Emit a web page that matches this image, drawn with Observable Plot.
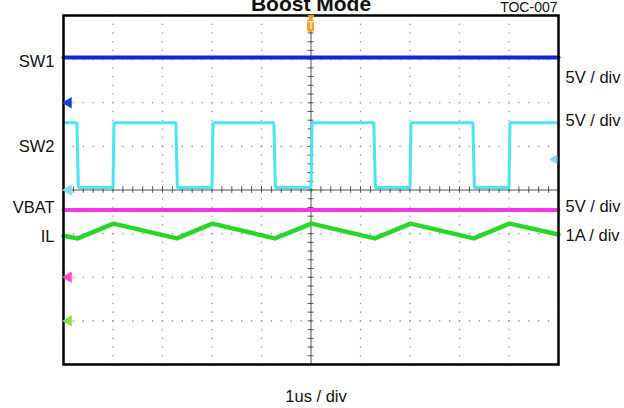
<!DOCTYPE html>
<html><head><meta charset="utf-8">
<script src="https://cdn.jsdelivr.net/npm/d3@7"></script>
<script src="https://cdn.jsdelivr.net/npm/@observablehq/plot@0.6"></script>
<style>
body{margin:0;background:#fff;}
#chart{width:624px;height:408px;overflow:hidden;}
</style>
</head><body><div id="chart"></div>
<script>
// ---- text ----
const title = "Boost Mode";
const docId = "TOC-007";
const timeBase = "1us / div";
const channels = ["SW1", "SW2", "VBAT", "IL"];
const channelScale = ["5V / div", "5V / div", "5V / div", "1A / div"];
// ---- channel setup (units per division, ground reference in divisions) ----
const unitsPerDiv = [5, 5, 5, 1];
const groundDiv = [2, 0, -2, -3];
const triggerLevelV = 3.5;   // SW2 trigger level
const triggerTime = 5;       // us
// ---- traces (time in us, value in V or A) ----
const sw1T = [0, 10];
const sw1V = [5.2, 5.2];
const sw2T = [0, 0.27, 0.30, 1.00, 1.02, 2.27, 2.30, 3.00, 3.02, 4.25, 4.28, 5.00, 5.02, 6.27, 6.30, 7.00, 7.02, 8.27, 8.30, 9.00, 9.02, 10];
const sw2V = [7.7, 7.7, 0.3, 0.3, 7.7, 7.7, 0.3, 0.3, 7.7, 7.7, 0.3, 0.3, 7.7, 7.7, 0.3, 0.3, 7.7, 7.7, 0.3, 0.3, 7.7, 7.7];
const vbatT = [0, 10];
const vbatV = [7.7, 7.7];
const ilT = [0, 0.29, 1.01, 2.29, 3.01, 4.27, 5.01, 6.29, 7.01, 8.29, 9.01, 10];
const ilV = [1.95, 1.89, 2.23, 1.89, 2.23, 1.89, 2.23, 1.89, 2.23, 1.89, 2.23, 1.98];

const traceColors = ["#1226dc", "#48e6f2", "#f434ec", "#2bd62b"];
const markerColors = ["#1c3ed2", "#80daf0", "#ff4cc6", "#88dc4c"];
const traceWidths = [4, 3, 4, 4.5];

const traces = [[sw1T, sw1V], [sw2T, sw2V], [vbatT, vbatV], [ilT, ilV]];
const traceData = traces.map(([T, V], i) =>
  T.map((t, j) => ({t, div: groundDiv[i] + V[j] / unitsPerDiv[i], ch: i})));

// graticule: 10 x 8 divisions, 5 minor steps per division
const xDivs = d3.range(0, 11);
const yDivs = d3.range(-4, 5);
const xMinor = d3.range(0, 50.5).map(k => k / 5);
const yMinor = d3.range(-20, 20.5).map(k => k / 5);
const gridDots = [];
for (const x of xDivs) for (const y of yMinor) gridDots.push({x, y});
for (const y of yDivs) for (const x of xMinor) gridDots.push({x, y});

const font = "Liberation Sans, Arial, Helvetica, sans-serif";
const labelY = [2.93, 1.0, -0.40, -1.08];
const scaleY = [2.58, 1.59, -0.38, -1.05];

const chart = Plot.plot({
  width: 624, height: 408,
  marginLeft: 63, marginRight: 66, marginTop: 15, marginBottom: 44,
  x: {domain: [0, 10], axis: null},
  y: {domain: [-4, 4], axis: null},
  style: {fontFamily: font, background: "white", overflow: "visible"},
  marks: [
    Plot.dot(gridDots, {x: "x", y: "y", r: 0.8, fill: "#9a9a9a", stroke: null}),
    Plot.ruleX([triggerTime], {stroke: "#555", strokeWidth: 1}),
    Plot.ruleY([0], {stroke: "#555", strokeWidth: 1}),
    Plot.ruleX(xMinor, {x: d => d, y1: -0.075, y2: 0.075, stroke: "#555", strokeWidth: 1}),
    Plot.ruleY(yMinor, {y: d => d, x1: 4.94, x2: 5.06, stroke: "#555", strokeWidth: 1}),
    ...traceData.map((data, i) => Plot.line(data, {
      x: "t", y: "div", stroke: traceColors[i], strokeWidth: traceWidths[i],
      strokeLinejoin: "miter", curve: "linear"
    })),
    Plot.frame({stroke: "black", strokeWidth: 2.5}),
    // ground reference markers
    Plot.dot(groundDiv, {x: () => 0, y: d => d, dx: 5, symbol: "triangle", rotate: -90, r: 4.2,
      fill: (d, i) => markerColors[i], stroke: null}),
    // trigger level marker (SW2)
    Plot.dot([triggerLevelV], {x: () => 10, y: d => groundDiv[1] + d / unitsPerDiv[1], dx: -4,
      symbol: "triangle", rotate: -90, r: 3.6, fill: markerColors[1], stroke: null}),
    // trigger position marker
    Plot.dot([triggerTime], {x: d => d, frameAnchor: "top", dy: 1.5, symbol: "triangle", rotate: 180,
      r: 2.6, fill: "#f39a1a", stroke: null}),
    Plot.rect([triggerTime], {x1: d => d - 0.07, x2: d => d + 0.07, y1: 3.61, y2: 3.91, rx: 3,
      fill: "#f5a01e"}),
    Plot.text([triggerTime], {x: d => d, y: 3.76, text: () => "T", fill: "#fff1cc",
      fontWeight: "bold", fontSize: 10}),
    // channel names
    Plot.text(channels, {x: () => 0, y: (d, i) => labelY[i], text: d => d, dx: -9,
      textAnchor: "end", fontSize: 16.5, fill: "#111"}),
    // scales
    Plot.text(channelScale, {x: () => 10, y: (d, i) => scaleY[i], text: d => d, dx: 7,
      textAnchor: "start", fontSize: 16.5, fill: "#111"}),
    Plot.text([timeBase], {x: () => 5, frameAnchor: "bottom", lineAnchor: "middle", dy: 32,
      text: d => d, fontSize: 16.5, fill: "#111", dx: 5}),
    Plot.text([title], {x: () => 5, frameAnchor: "top", lineAnchor: "middle", dy: -11,
      text: d => d, fontSize: 21, fontWeight: "bold", fill: "#111"}),
    Plot.text([docId], {x: () => 10, frameAnchor: "top", lineAnchor: "middle", dy: -7.5, dx: -1,
      text: d => d, textAnchor: "end", fontSize: 14, fill: "#111"})
  ]
});
document.getElementById("chart").appendChild(chart);
</script>
</body></html>
